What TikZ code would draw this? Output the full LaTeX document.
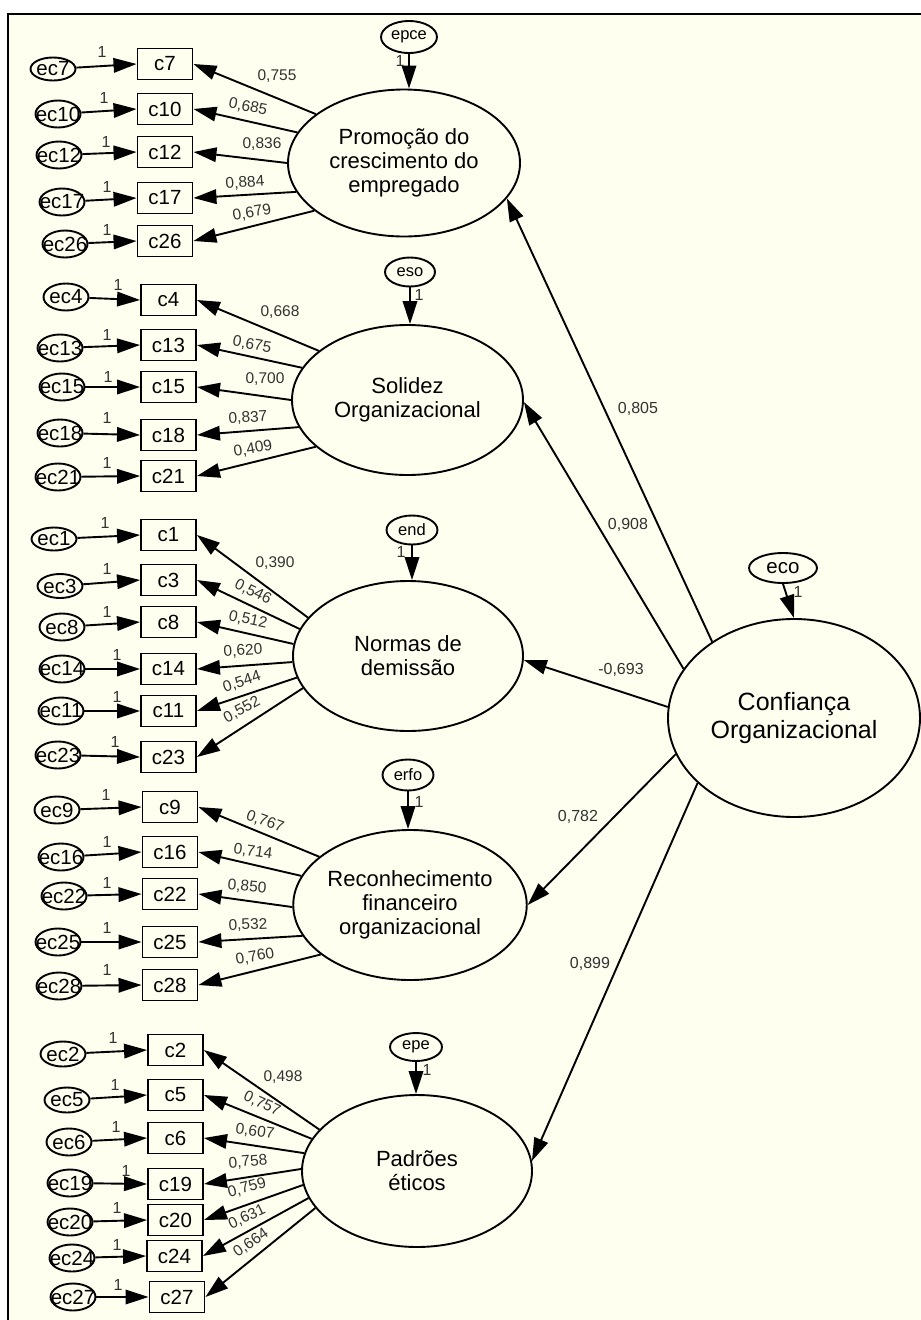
\documentclass[tikz,border=0pt]{standalone}
\usepackage{fontspec}
\setmainfont{Liberation Sans}
\usetikzlibrary{shapes.geometric,arrows.meta}
\definecolor{bg}{RGB}{255,255,240}
\definecolor{lbl}{RGB}{50,50,50}
\newcommand{\fsz}[2]{\fontsize{#1}{#2}\selectfont}
\begin{document}
\begin{tikzpicture}[x=1pt,y=-1pt,
  lw/.style={line width=1.9pt},
  obs/.style={draw,lw,fill=bg,minimum width=55pt,minimum height=31pt,inner sep=0pt,font=\fsz{20.5}{22}},
  err/.style={draw,lw,ellipse,fill=bg,minimum width=45pt,minimum height=27pt,inner sep=0pt,label={[font=\fsz{20.5}{22},inner sep=0pt]center:#1}},
  lat/.style={draw,lw,ellipse,fill=bg,inner sep=0pt,align=center,font=\fsz{22}{24}},
  res/.style={draw,lw,ellipse,fill=bg,inner sep=0pt,font=\fsz{16.5}{18}},
  arr/.style={lw,-{Triangle[length=23pt,width=14.5pt]}},
  val/.style={font=\fsz{15.5}{17},text=lbl,inner sep=0pt},
  sval/.style={font=\fsz{16}{18},text=lbl,inner sep=0pt},
  one/.style={font=\fsz{16}{17},text=lbl,inner sep=0pt}]
\useasboundingbox (0,0) rectangle (921,1320);
\fill[white] (0,0) rectangle (921,1320);
\fill[bg] (8,14) rectangle (921,1320);
\draw[line width=2.2pt] (7.7,1320) -- (7.7,14.3) -- (921,14.3);

% latent variables
\node[lat,minimum width=232pt,minimum height=147pt] (prom) at (404,163) {Promoção do\\crescimento do\\empregado};
\node[lat,minimum width=231pt,minimum height=150pt] (sol) at (407.5,400) {Solidez\\Organizacional};
\node[lat,minimum width=230pt,minimum height=150pt] (norm) at (408,656) {Normas de\\demissão};
\node[lat,minimum width=233pt,minimum height=150pt] (rec) at (410,905) {Reconhecimento\\financeiro\\organizacional};
\node[lat,minimum width=230pt,minimum height=152pt] (pad) at (417,1171) {Padrões\\éticos};
\node[lat,minimum width=252pt,minimum height=198pt,font=\fsz{25}{28}] (conf) at (794,718) {Confiança\\Organizacional};

% residuals of latents
\node[res,minimum width=56pt,minimum height=32pt] (epce) at (409,37) {epce};
\node[res,minimum width=50pt,minimum height=29pt] (eso) at (410,272) {eso};
\node[res,minimum width=51pt,minimum height=29pt] (end) at (412,530) {end};
\node[res,minimum width=51pt,minimum height=31pt] (erfo) at (408,775) {erfo};
\node[res,minimum width=52pt,minimum height=28pt] (epe) at (416,1047) {epe};
\node[res,minimum width=68pt,minimum height=30pt,font=\fsz{20.5}{22}] (eco) at (783,568) {eco};

\draw[arr] (epce.south) -- (epce.south |- prom.north);
\draw[arr] (eso.south) -- (eso.south |- sol.north);
\draw[arr] (end.south) -- (end.south |- norm.north);
\draw[arr] (erfo.south) -- (erfo.south |- rec.north);
\draw[arr] (epe.south) -- (epe.south |- pad.north);
\draw[arr] (eco.south) -- (conf.north);
\node[one] (o1) at (400,61) {1};
\node[one] (o2) at (419,295) {1};
\node[one] (o3) at (401,552) {1};
\node[one] (o4) at (419,802) {1};
\node[one] (o5) at (427,1070) {1};
\node[one] (o6) at (798,592) {1};

% structural paths
\draw[arr] (conf.137.2) -- (prom.-19.6);
\draw[arr] (conf.156.6) -- (sol.-1);
\draw[arr] (conf.175) -- (norm.-2);
\draw[arr] (conf.197.3) -- (rec.0);
\draw[arr] (conf.214.9) -- (pad.5);
\node[sval] (s1) at (638,409) {0,805};
\node[sval] (s2) at (628,525) {0,908};
\node[sval] (s3) at (621,670) {-0,693};
\node[sval] (s4) at (578,817) {0,782};
\node[sval] (s5) at (590,964) {0,899};

% group 1
\node[obs] (c7) at (165,64) {c7};
\node[obs] (c10) at (165,109) {c10};
\node[obs] (c12) at (165,152) {c12};
\node[obs] (c17) at (165,198) {c17};
\node[obs] (c26) at (165,241) {c26};
\node[err=ec7,minimum height=23pt] (ec7) at (53,69) {};
\node[err=ec10] (ec10) at (58,114) {};
\node[err=ec12] (ec12) at (59,155) {};
\node[err=ec17] (ec17) at (62,202) {};
\node[err=ec26] (ec26) at (65,244) {};
\foreach \e/\c in {ec7/c7,ec10/c10,ec12/c12,ec17/c17,ec26/c26}{\draw[arr] (\e) -- (\c.west);}
\foreach \a/\c in {151.7/c7,164.2/c10,180/c12,195.7/c17,208.3/c26}{\draw[arr] (prom.\a) -- (\c.east);}
\node[val] at (277,76) {0,755};
\node[val,rotate=-11] at (248,107) {0,685};
\node[val] at (262,144) {0,836};
\node[val,rotate=4] at (245,183) {0,884};
\node[val,rotate=10] at (252,213) {0,679};
\foreach \p in {(102,52),(104,98),(106,142),(107,187),(107,230)}{\node[one] at \p {1};}

% group 2
\node[obs] (c4) at (168.5,300) {c4};
\node[obs] (c13) at (168.5,345) {c13};
\node[obs] (c15) at (168.5,387) {c15};
\node[obs] (c18) at (168.5,435) {c18};
\node[obs] (c21) at (168.5,476) {c21};
\node[err=ec4] (ec4) at (66,297) {};
\node[err=ec13] (ec13) at (60,348) {};
\node[err=ec15] (ec15) at (62,387) {};
\node[err=ec18] (ec18) at (60,433) {};
\node[err=ec21] (ec21) at (58,477) {};
\foreach \e/\c in {ec4/c4,ec13/c13,ec15/c15,ec18/c18,ec21/c21}{\draw[arr] (\e) -- (\c.west);}
\foreach \a/\c in {151/c4,163.4/c13,180/c15,194.7/c18,207.9/c21}{\draw[arr] (sol.\a) -- (\c.east);}
\node[val] at (280,312) {0,668};
\node[val,rotate=-10] at (252,345) {0,675};
\node[val] at (265,379) {0,700};
\node[val,rotate=3] at (248,418) {0,837};
\node[val,rotate=10] at (253,449) {0,409};
\foreach \p in {(118,285),(107,335),(108,377),(107,418),(107,463)}{\node[one] at \p {1};}

% group 3
\node[obs] (c1) at (168.5,535) {c1};
\node[obs] (c3) at (168.5,580) {c3};
\node[obs] (c8) at (168.5,622) {c8};
\node[obs] (c14) at (168.5,669) {c14};
\node[obs] (c11) at (168.5,711) {c11};
\node[obs] (c23) at (168.5,757) {c23};
\node[err=ec1,minimum height=23pt] (ec1) at (54,539) {};
\node[err=ec3,minimum height=24pt] (ec3) at (60,586) {};
\node[err=ec8] (ec8) at (62,627) {};
\node[err=ec14] (ec14) at (62,669) {};
\node[err=ec11] (ec11) at (61,711) {};
\node[err=ec23] (ec23) at (58,755) {};
\foreach \e/\c in {ec1/c1,ec3/c3,ec8/c8,ec14/c14,ec11/c11,ec23/c23}{\draw[arr] (\e) -- (\c.west);}
\foreach \a/\c in {159.7/c1,166.8/c3,174.6/c8,183/c14,191/c11,197.8/c23}{\draw[arr] (norm.\a) -- (\c.east);}
\node[val] at (275,563) {0,390};
\node[val,rotate=-27] at (253,592) {0,546};
\node[val,rotate=-12] at (248,620) {0,512};
\node[val,rotate=4] at (243,651) {0,620};
\node[val,rotate=18] at (242,682) {0,544};
\node[val,rotate=28] at (242,710) {0,552};
\foreach \p in {(105,523),(107,569),(107,612),(117,655),(117,697),(115,742)}{\node[one] at \p {1};}

% group 4
\node[obs] (c9) at (170,807) {c9};
\node[obs] (c16) at (170,852) {c16};
\node[obs] (c22) at (170,894) {c22};
\node[obs] (c25) at (170,942) {c25};
\node[obs] (c28) at (170,985) {c28};
\node[err=ec9] (ec9) at (57,810) {};
\node[err=ec16] (ec16) at (61,857) {};
\node[err=ec22] (ec22) at (64,896) {};
\node[err=ec25] (ec25) at (58,942) {};
\node[err=ec28] (ec28) at (59,986) {};
\foreach \e/\c in {ec9/c9,ec16/c16,ec22/c22,ec25/c25,ec28/c28}{\draw[arr] (\e) -- (\c.west);}
\foreach \a/\c in {152.4/c9,165/c16,181.5/c22,196.5/c25,209/c28}{\draw[arr] (rec.\a) -- (\c.east);}
\node[val,rotate=-20] at (265,822) {0,767};
\node[val,rotate=-8] at (253,852) {0,714};
\node[val,rotate=-5] at (247,887) {0,850};
\node[val,rotate=2] at (248,925) {0,532};
\node[val,rotate=10] at (255,957) {0,760};
\foreach \p in {(106,795),(107,842),(107,883),(107,928),(107,970)}{\node[one] at \p {1};}

% group 5
\node[obs] (c2) at (175.5,1050) {c2};
\node[obs] (c5) at (175.5,1095) {c5};
\node[obs] (c6) at (175.5,1138) {c6};
\node[obs] (c19) at (175.5,1184) {c19};
\node[obs] (c20) at (175.5,1220) {c20};
\node[obs] (c24) at (174.5,1256) {c24};
\node[obs] (c27) at (177,1297) {c27};
\node[err=ec2,minimum height=25pt] (ec2) at (63,1054) {};
\node[err=ec5,minimum height=25pt] (ec5) at (67,1100) {};
\node[err=ec6] (ec6) at (69,1142) {};
\node[err=ec19] (ec19) at (70,1183) {};
\node[err=ec20] (ec20) at (70,1222) {};
\node[err=ec24] (ec24) at (72,1258) {};
\node[err=ec27] (ec27) at (73,1297) {};
\foreach \e/\c in {ec2/c2,ec5/c5,ec6/c6,ec19/c19,ec20/c20,ec24/c24,ec27/c27}{\draw[arr] (\e) -- (\c.west);}
\foreach \a/\c in {157.7/c2,163.8/c5,171/c6,179/c19,187/c20,194.5/c24,200.6/c27}{\draw[arr] (pad.\a) -- (\c.east);}
\node[val] at (283,1077) {0,498};
\node[val,rotate=-25] at (262,1104) {0,757};
\node[val,rotate=-8] at (255,1132) {0,607};
\node[val,rotate=5] at (248,1162) {0,758};
\node[val,rotate=15] at (247,1188) {0,759};
\node[val,rotate=25] at (247,1217) {0,631};
\node[val,rotate=35] at (251,1243) {0,664};
\foreach \p in {(113,1038),(115,1085),(116,1127),(126,1171),(117,1208),(117,1245),(118,1285)}{\node[one] at \p {1};}
\end{tikzpicture}
\end{document}
